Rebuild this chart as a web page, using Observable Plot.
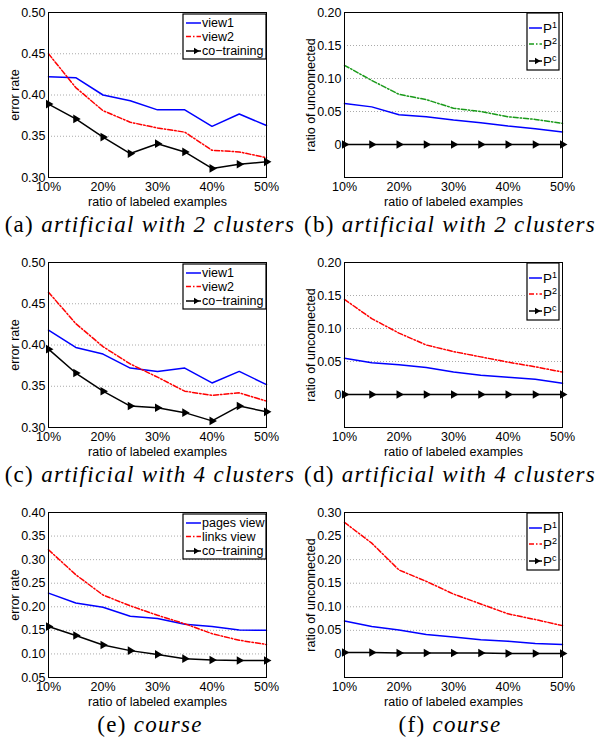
<!DOCTYPE html>
<html>
<head>
<meta charset="utf-8">
<script src="https://cdn.jsdelivr.net/npm/d3@7"></script>
<script src="https://cdn.jsdelivr.net/npm/@observablehq/plot@0.6"></script>
<style>
  html, body { margin: 0; padding: 0; background: #fff; }
  #root { position: relative; width: 600px; height: 740px; overflow: hidden; }
  .panel { position: absolute; width: 300px; height: 250px; }
  .panel svg { position: absolute; left: 0; top: 0; }
  .cap { position: absolute; left: 0; width: 300px; top: 212px; text-align: center;
         font-family: "Liberation Serif", serif; font-size: 23px; letter-spacing: 1.3px; color: #000; white-space: nowrap; }
  .cap i { font-style: italic; }
</style>
</head>
<body>
<div id="root"></div>
<script>
// ---------- data ----------
const ratios = [10, 15, 20, 25, 30, 35, 40, 45, 50];
const xTicks = [10, 20, 30, 40, 50];

// (a) artificial with 2 clusters – error rate
const aView1 = [0.422, 0.421, 0.400, 0.393, 0.382, 0.382, 0.362, 0.377, 0.363];
const aView2 = [0.450, 0.409, 0.381, 0.367, 0.360, 0.355, 0.333, 0.331, 0.324];
const aCo    = [0.389, 0.371, 0.349, 0.329, 0.341, 0.331, 0.311, 0.316, 0.319];
// (b) artificial with 2 clusters – ratio of unconnected
const bP1 = [0.062, 0.057, 0.045, 0.042, 0.037, 0.033, 0.028, 0.024, 0.019];
const bP2 = [0.120, 0.097, 0.076, 0.068, 0.055, 0.050, 0.042, 0.038, 0.032];
const bPc = [0, 0, 0, 0, 0, 0, 0, 0, 0];
// (c) artificial with 4 clusters – error rate
const cView1 = [0.418, 0.397, 0.389, 0.372, 0.368, 0.372, 0.354, 0.368, 0.352];
const cView2 = [0.464, 0.426, 0.398, 0.377, 0.361, 0.344, 0.339, 0.342, 0.332];
const cCo    = [0.395, 0.366, 0.344, 0.326, 0.324, 0.318, 0.308, 0.326, 0.319];
// (d) artificial with 4 clusters – ratio of unconnected
const dP1 = [0.055, 0.048, 0.045, 0.041, 0.034, 0.029, 0.026, 0.023, 0.017];
const dP2 = [0.144, 0.115, 0.093, 0.075, 0.065, 0.057, 0.049, 0.042, 0.034];
const dPc = [0, 0, 0, 0, 0, 0, 0, 0, 0];
// (e) course – error rate
const ePages = [0.229, 0.208, 0.199, 0.180, 0.175, 0.163, 0.158, 0.151, 0.150];
const eLinks = [0.321, 0.268, 0.225, 0.202, 0.182, 0.164, 0.143, 0.129, 0.120];
const eCo    = [0.158, 0.139, 0.119, 0.107, 0.099, 0.090, 0.087, 0.086, 0.086];
// (f) course – ratio of unconnected
const fP1 = [0.070, 0.058, 0.051, 0.041, 0.036, 0.030, 0.027, 0.022, 0.020];
const fP2 = [0.279, 0.235, 0.178, 0.154, 0.127, 0.106, 0.085, 0.073, 0.060];
const fPc = [0.003, 0.003, 0.002, 0.002, 0.002, 0.002, 0.001, 0.001, 0.001];

const captions = [
  ["(a)", "artificial with 2 clusters"],
  ["(b)", "artificial with 2 clusters"],
  ["(c)", "artificial with 4 clusters"],
  ["(d)", "artificial with 4 clusters"],
  ["(e)", "course"],
  ["(f)", "course"]
];
const errTicksA = [0.30, 0.35, 0.40, 0.45, 0.50];
const errTicksE = [0.05, 0.10, 0.15, 0.20, 0.25, 0.30, 0.35, 0.40];
const uncTicksB = [0, 0.05, 0.10, 0.15, 0.20];
const uncTicksF = [0, 0.05, 0.10, 0.15, 0.20, 0.25, 0.30];

// ---------- styles ----------
const BLUE = "#0000ff", RED = "#ff0000", GREEN = "#1a9a1a", BLACK = "#000";
const DASHDOT = "5,2,1.5,2";

const panels = [
  { kind: "err", yDomain: [0.30, 0.50], yTicks: errTicksA, ylabel: "error rate",
    series: [["view1", aView1, BLUE, null, false], ["view2", aView2, RED, DASHDOT, false], ["co\u2212training", aCo, BLACK, null, true]] },
  { kind: "unc", yDomain: [-0.05, 0.20], yTicks: uncTicksB, ylabel: "ratio of unconnected",
    series: [["1", bP1, BLUE, null, false], ["2", bP2, GREEN, DASHDOT, false], ["c", bPc, BLACK, null, true]] },
  { kind: "err", yDomain: [0.30, 0.50], yTicks: errTicksA, ylabel: "error rate",
    series: [["view1", cView1, BLUE, null, false], ["view2", cView2, RED, DASHDOT, false], ["co\u2212training", cCo, BLACK, null, true]] },
  { kind: "unc", yDomain: [-0.05, 0.20], yTicks: uncTicksB, ylabel: "ratio of unconnected",
    series: [["1", dP1, BLUE, null, false], ["2", dP2, RED, DASHDOT, false], ["c", dPc, BLACK, null, true]] },
  { kind: "err", yDomain: [0.05, 0.40], yTicks: errTicksE, ylabel: "error rate",
    series: [["pages view", ePages, BLUE, null, false], ["links view", eLinks, RED, DASHDOT, false], ["co\u2212training", eCo, BLACK, null, true]] },
  { kind: "unc", yDomain: [-0.05, 0.30], yTicks: uncTicksF, ylabel: "ratio of unconnected",
    series: [["1", fP1, BLUE, null, false], ["2", fP2, RED, DASHDOT, false], ["c", fPc, BLACK, null, true]] }
];

const root = document.getElementById("root");
const FONT = "Liberation Sans, Arial, sans-serif";

panels.forEach((p, i) => {
  const col = i % 2, row = Math.floor(i / 2);
  const div = document.createElement("div");
  div.className = "panel";
  div.style.left = (col * 300) + "px";
  div.style.top = (row * 250) + "px";
  root.appendChild(div);

  const isErr = p.kind === "err";
  const mL = isErr ? 48 : 44, mR = isErr ? 34 : 38;
  const marks = [];
  const grid = p.yTicks.filter(t => t !== p.yDomain[0] && t !== p.yDomain[1] && t !== 0);
  marks.push(Plot.gridY(grid, { stroke: "#aaa", strokeOpacity: 1, strokeDasharray: "1,2" }));
  p.series.forEach(([name, vals, color, dash, markers]) => {
    const data = ratios.map((r, k) => ({ r, v: vals[k] }));
    marks.push(Plot.line(data, { x: "r", y: "v", stroke: color, strokeWidth: 1.5,
      strokeDasharray: dash || undefined }));
    if (markers) {
      marks.push(Plot.dot(data, { x: "r", y: "v", symbol: "triangle", rotate: 90, r: 3.2, fill: BLACK, stroke: "none" }));
    }
  });
  marks.push(Plot.frame({ stroke: BLACK, strokeWidth: 1 }));
  marks.push(Plot.axisX(xTicks, { tickSize: 0, tickPadding: 5, tickFormat: d => d + "%",
    label: "ratio of labeled examples", labelAnchor: "center", labelArrow: "none", labelOffset: 28,
    fontSize: 12.5 }));
  marks.push(Plot.axisY(p.yTicks, { tickSize: 0, tickPadding: 3,
    tickFormat: d => d === 0 ? "0" : d.toFixed(2),
    label: p.ylabel, labelAnchor: "center", labelArrow: "none", labelOffset: 38,
    fontSize: 12.5 }));

  const svg = Plot.plot({
    width: 300, height: 210,
    marginLeft: mL, marginRight: mR, marginTop: 12, marginBottom: 33,
    style: { fontFamily: FONT, fontSize: "12.5px", color: "#000", background: "transparent" },
    x: { domain: [10, 50] },
    y: { domain: p.yDomain },
    marks
  });
  div.appendChild(svg);

  // legend
  const g = d3.select(svg).append("g").attr("font-family", FONT).attr("text-anchor", "start");
  if (isErr) {
    const bx = 183, by = 14, bw = 83, bh = 45;
    g.append("rect").attr("x", bx).attr("y", by).attr("width", bw).attr("height", bh)
      .attr("fill", "#fff").attr("stroke", BLACK).attr("stroke-width", 1.2);
    const ys = [23, 36.5, 51];
    p.series.forEach(([name, vals, color, dash, markers], k) => {
      g.append("line").attr("x1", bx + 3).attr("x2", bx + 18).attr("y1", ys[k]).attr("y2", ys[k])
        .attr("stroke", color).attr("stroke-width", 1.5).attr("stroke-dasharray", dash || null);
      if (markers) {
        g.append("path").attr("d", `M${bx + 11},${ys[k] - 3.2}L${bx + 16.5},${ys[k]}L${bx + 11},${ys[k] + 3.2}Z`).attr("fill", BLACK);
      }
      g.append("text").attr("x", bx + 19).attr("y", ys[k]).attr("dy", "0.35em")
        .attr("text-anchor", "start").attr("font-size", 12.5).text(name);
    });
  } else {
    const bx = 227, by = 13, bw = 32, bh = 57;
    g.append("rect").attr("x", bx).attr("y", by).attr("width", bw).attr("height", bh)
      .attr("fill", "#fff").attr("stroke", BLACK).attr("stroke-width", 1.2);
    const ys = [28, 44, 61];
    p.series.forEach(([name, vals, color, dash, markers], k) => {
      g.append("line").attr("x1", bx + 2).attr("x2", bx + 15).attr("y1", ys[k]).attr("y2", ys[k])
        .attr("stroke", color).attr("stroke-width", 1.5).attr("stroke-dasharray", dash || null);
      if (markers) {
        g.append("path").attr("d", `M${bx + 8},${ys[k] - 3.2}L${bx + 13.5},${ys[k]}L${bx + 8},${ys[k] + 3.2}Z`).attr("fill", BLACK);
      }
      const t = g.append("text").attr("x", bx + 16).attr("y", ys[k] + 4.5)
        .attr("text-anchor", "start").attr("font-size", 13.5);
      t.append("tspan").text("P");
      t.append("tspan").attr("dy", -5).attr("font-size", 9).text(name);
    });
  }

  const cap = document.createElement("div");
  cap.className = "cap";
  cap.innerHTML = `${captions[i][0]} <i>${captions[i][1]}</i>`;
  div.appendChild(cap);
});
</script>
</body>
</html>
